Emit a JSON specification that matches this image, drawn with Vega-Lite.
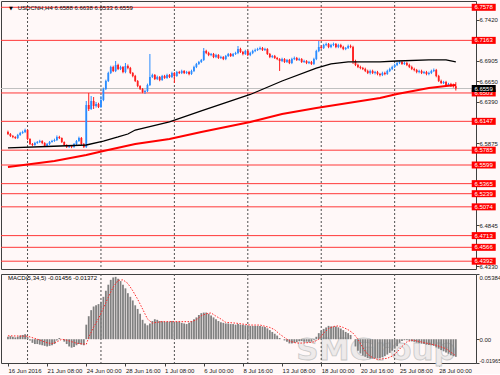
{
"$schema":"https://vega.github.io/schema/vega-lite/v6.json",
"background":"#FFF8F8",
"padding":0,
"spacing":3,
"config":{"view":{"stroke":"#404040","strokeWidth":1,"fill":"#FFF8F8"},"font":"Liberation Sans"},
"datasets":{
"grid":[{"i":8},{"i":38},{"i":68},{"i":98},{"i":128},{"i":158}],
"lv":[{"v":6.7578},{"v":6.7163},{"v":6.6503},{"v":6.6147},{"v":6.5785},{"v":6.5599},{"v":6.5365},{"v":6.5239},{"v":6.5074},{"v":6.4713},{"v":6.4566},{"v":6.4392}],
"bid":[{"v":6.6559}],
"ma1":[{"i":0,"v":6.5813},{"i":16,"v":6.5831},{"i":32,"v":6.5850},{"i":39,"v":6.5900},{"i":45,"v":6.5951},{"i":49,"v":6.5988},{"i":52,"v":6.6038},{"i":66,"v":6.6139},{"i":79,"v":6.6277},{"i":99,"v":6.6484},{"i":112,"v":6.6653},{"i":126,"v":6.6816},{"i":132,"v":6.6867},{"i":139,"v":6.6892},{"i":152,"v":6.6892},{"i":159,"v":6.6904},{"i":172,"v":6.6917},{"i":179,"v":6.6917},{"i":183,"v":6.6892}],
"ma2":[{"i":0,"v":6.5574},{"i":19,"v":6.5650},{"i":32,"v":6.5725},{"i":39,"v":6.5775},{"i":52,"v":6.5863},{"i":66,"v":6.5925},{"i":79,"v":6.6013},{"i":99,"v":6.6139},{"i":112,"v":6.6239},{"i":126,"v":6.6314},{"i":139,"v":6.6377},{"i":152,"v":6.6440},{"i":159,"v":6.6490},{"i":172,"v":6.6566},{"i":179,"v":6.6591},{"i":183,"v":6.6603}],
"sig":[{"i":0,"v":0.0028},{"i":8,"v":0.0025},{"i":12,"v":0.0},{"i":16,"v":-0.003},{"i":18,"v":-0.0036},{"i":20,"v":-0.0022},{"i":22,"v":0.0},{"i":24,"v":-0.0008},{"i":28,"v":-0.0033},{"i":32,"v":-0.0042},{"i":33,"v":0.0015},{"i":35,"v":0.010},{"i":37,"v":0.017},{"i":39,"v":0.0256},{"i":41,"v":0.0347},{"i":43,"v":0.043},{"i":45,"v":0.0486},{"i":47,"v":0.049},{"i":49,"v":0.046},{"i":51,"v":0.040},{"i":53,"v":0.033},{"i":55,"v":0.025},{"i":57,"v":0.0167},{"i":59,"v":0.0133},{"i":61,"v":0.014},{"i":63,"v":0.0145},{"i":75,"v":0.0145},{"i":77,"v":0.016},{"i":79,"v":0.0194},{"i":81,"v":0.021},{"i":83,"v":0.0217},{"i":85,"v":0.019},{"i":87,"v":0.0167},{"i":89,"v":0.0139},{"i":93,"v":0.0133},{"i":99,"v":0.0117},{"i":103,"v":0.0117},{"i":107,"v":0.0097},{"i":109,"v":0.0078},{"i":111,"v":0.0042},{"i":113,"v":0.0014},{"i":115,"v":-0.0014},{"i":117,"v":-0.0028},{"i":119,"v":-0.0033},{"i":123,"v":-0.0028},{"i":125,"v":-0.0022},{"i":127,"v":0.0},{"i":129,"v":0.005},{"i":131,"v":0.0089},{"i":133,"v":0.0105},{"i":135,"v":0.011},{"i":137,"v":0.0097},{"i":139,"v":0.0078},{"i":141,"v":0.005},{"i":143,"v":0.0},{"i":145,"v":-0.007},{"i":147,"v":-0.0125},{"i":149,"v":-0.0153},{"i":151,"v":-0.0167},{"i":155,"v":-0.0158},{"i":157,"v":-0.0139},{"i":159,"v":-0.0106},{"i":161,"v":-0.006},{"i":163,"v":-0.0022},{"i":165,"v":-0.0008},{"i":167,"v":-0.0014},{"i":171,"v":-0.0033},{"i":175,"v":-0.005},{"i":179,"v":-0.0078},{"i":183,"v":-0.0137}],
"bars":[
{"i":0,"o":6.6013,"h":6.6030,"l":6.5975,"c":6.5988,"m":0.002},
{"i":1,"o":6.5988,"h":6.6000,"l":6.5950,"c":6.5963,"m":0.0025},
{"i":2,"o":6.5963,"h":6.5975,"l":6.5935,"c":6.5951,"m":0.002},
{"i":3,"o":6.5951,"h":6.5960,"l":6.5925,"c":6.5938,"m":0.0015},
{"i":4,"o":6.5938,"h":6.5990,"l":6.5925,"c":6.5976,"m":0.002},
{"i":5,"o":6.5976,"h":6.6015,"l":6.5965,"c":6.6001,"m":0.003},
{"i":6,"o":6.6001,"h":6.6030,"l":6.5990,"c":6.6013,"m":0.0035},
{"i":7,"o":6.6013,"h":6.6055,"l":6.6000,"c":6.6038,"m":0.004},
{"i":8,"o":6.6038,"h":6.6045,"l":6.5910,"c":6.5925,"m":0.002},
{"i":9,"o":6.5925,"h":6.5935,"l":6.5850,"c":6.5863,"m":-0.001},
{"i":10,"o":6.5863,"h":6.5875,"l":6.5835,"c":6.5850,"m":-0.003},
{"i":11,"o":6.5850,"h":6.5890,"l":6.5840,"c":6.5875,"m":-0.004},
{"i":12,"o":6.5875,"h":6.5900,"l":6.5865,"c":6.5888,"m":-0.004},
{"i":13,"o":6.5888,"h":6.5915,"l":6.5875,"c":6.5900,"m":-0.0045},
{"i":14,"o":6.5900,"h":6.5910,"l":6.5860,"c":6.5875,"m":-0.005},
{"i":15,"o":6.5875,"h":6.5885,"l":6.5825,"c":6.5838,"m":-0.0055},
{"i":16,"o":6.5838,"h":6.5875,"l":6.5825,"c":6.5863,"m":-0.006},
{"i":17,"o":6.5863,"h":6.5900,"l":6.5850,"c":6.5888,"m":-0.0055},
{"i":18,"o":6.5888,"h":6.5915,"l":6.5880,"c":6.5900,"m":-0.005},
{"i":19,"o":6.5900,"h":6.5930,"l":6.5890,"c":6.5913,"m":-0.004},
{"i":20,"o":6.5913,"h":6.5970,"l":6.5900,"c":6.5951,"m":-0.001},
{"i":21,"o":6.5951,"h":6.5965,"l":6.5925,"c":6.5938,"m":0.001},
{"i":22,"o":6.5938,"h":6.5945,"l":6.5875,"c":6.5888,"m":0.0},
{"i":23,"o":6.5888,"h":6.5895,"l":6.5838,"c":6.5850,"m":-0.002},
{"i":24,"o":6.5850,"h":6.5860,"l":6.5812,"c":6.5825,"m":-0.004},
{"i":25,"o":6.5825,"h":6.5850,"l":6.5812,"c":6.5838,"m":-0.006},
{"i":26,"o":6.5838,"h":6.5850,"l":6.5810,"c":6.5825,"m":-0.007},
{"i":27,"o":6.5825,"h":6.5875,"l":6.5815,"c":6.5863,"m":-0.0065},
{"i":28,"o":6.5863,"h":6.5912,"l":6.5850,"c":6.5900,"m":-0.005},
{"i":29,"o":6.5900,"h":6.5955,"l":6.5890,"c":6.5938,"m":-0.004},
{"i":30,"o":6.5938,"h":6.5950,"l":6.5850,"c":6.5863,"m":-0.0045},
{"i":31,"o":6.5863,"h":6.5875,"l":6.5812,"c":6.5825,"m":-0.005},
{"i":32,"o":6.5825,"h":6.6402,"l":6.5813,"c":6.6352,"m":0.012},
{"i":33,"o":6.6352,"h":6.6503,"l":6.6277,"c":6.6302,"m":0.019},
{"i":34,"o":6.6302,"h":6.6465,"l":6.6290,"c":6.6402,"m":0.024},
{"i":35,"o":6.6402,"h":6.6452,"l":6.6302,"c":6.6340,"m":0.027},
{"i":36,"o":6.6340,"h":6.6390,"l":6.6320,"c":6.6365,"m":0.028},
{"i":37,"o":6.6365,"h":6.6380,"l":6.6314,"c":6.6327,"m":0.029},
{"i":38,"o":6.6327,"h":6.6465,"l":6.6314,"c":6.6415,"m":0.031},
{"i":39,"o":6.6415,"h":6.6570,"l":6.6400,"c":6.6553,"m":0.035},
{"i":40,"o":6.6553,"h":6.6670,"l":6.6540,"c":6.6653,"m":0.040},
{"i":41,"o":6.6653,"h":6.6770,"l":6.6640,"c":6.6754,"m":0.045},
{"i":42,"o":6.6754,"h":6.6845,"l":6.6740,"c":6.6829,"m":0.049},
{"i":43,"o":6.6829,"h":6.6845,"l":6.6765,"c":6.6779,"m":0.051},
{"i":44,"o":6.6779,"h":6.6904,"l":6.6765,"c":6.6854,"m":0.0515},
{"i":45,"o":6.6854,"h":6.6870,"l":6.6790,"c":6.6804,"m":0.050},
{"i":46,"o":6.6804,"h":6.6845,"l":6.6790,"c":6.6829,"m":0.048},
{"i":47,"o":6.6829,"h":6.6840,"l":6.6750,"c":6.6766,"m":0.045},
{"i":48,"o":6.6766,"h":6.6879,"l":6.6750,"c":6.6841,"m":0.042},
{"i":49,"o":6.6841,"h":6.6860,"l":6.6800,"c":6.6816,"m":0.038},
{"i":50,"o":6.6816,"h":6.6830,"l":6.6740,"c":6.6754,"m":0.035},
{"i":51,"o":6.6754,"h":6.6765,"l":6.6700,"c":6.6716,"m":0.032},
{"i":52,"o":6.6716,"h":6.6730,"l":6.6640,"c":6.6653,"m":0.028},
{"i":53,"o":6.6653,"h":6.6665,"l":6.6575,"c":6.6591,"m":0.025},
{"i":54,"o":6.6591,"h":6.6600,"l":6.6540,"c":6.6553,"m":0.021},
{"i":55,"o":6.6553,"h":6.6565,"l":6.6500,"c":6.6515,"m":0.016},
{"i":56,"o":6.6515,"h":6.6545,"l":6.6490,"c":6.6528,"m":0.013},
{"i":57,"o":6.6528,"h":6.6620,"l":6.6515,"c":6.6603,"m":0.0115},
{"i":58,"o":6.6603,"h":6.6992,"l":6.6590,"c":6.6703,"m":0.013},
{"i":59,"o":6.6703,"h":6.6745,"l":6.6690,"c":6.6729,"m":0.015},
{"i":60,"o":6.6729,"h":6.6740,"l":6.6665,"c":6.6678,"m":0.0165},
{"i":61,"o":6.6678,"h":6.6720,"l":6.6665,"c":6.6703,"m":0.016},
{"i":62,"o":6.6703,"h":6.6715,"l":6.6650,"c":6.6666,"m":0.015},
{"i":63,"o":6.6666,"h":6.6730,"l":6.6655,"c":6.6716,"m":0.0148},
{"i":64,"o":6.6716,"h":6.6730,"l":6.6680,"c":6.6691,"m":0.0145},
{"i":65,"o":6.6691,"h":6.6745,"l":6.6680,"c":6.6729,"m":0.0145},
{"i":66,"o":6.6729,"h":6.6740,"l":6.6690,"c":6.6703,"m":0.0145},
{"i":67,"o":6.6703,"h":6.6770,"l":6.6690,"c":6.6754,"m":0.015},
{"i":68,"o":6.6754,"h":6.6765,"l":6.6628,"c":6.6716,"m":0.0145},
{"i":69,"o":6.6716,"h":6.6780,"l":6.6705,"c":6.6766,"m":0.0145},
{"i":70,"o":6.6766,"h":6.6780,"l":6.6740,"c":6.6754,"m":0.0145},
{"i":71,"o":6.6754,"h":6.6795,"l":6.6740,"c":6.6779,"m":0.0135},
{"i":72,"o":6.6779,"h":6.6790,"l":6.6740,"c":6.6754,"m":0.013},
{"i":73,"o":6.6754,"h":6.6780,"l":6.6740,"c":6.6766,"m":0.0125},
{"i":74,"o":6.6766,"h":6.6780,"l":6.6725,"c":6.6741,"m":0.0135},
{"i":75,"o":6.6741,"h":6.6795,"l":6.6730,"c":6.6779,"m":0.015},
{"i":76,"o":6.6779,"h":6.6845,"l":6.6765,"c":6.6829,"m":0.0165},
{"i":77,"o":6.6829,"h":6.6880,"l":6.6815,"c":6.6867,"m":0.018},
{"i":78,"o":6.6867,"h":6.6905,"l":6.6855,"c":6.6892,"m":0.020},
{"i":79,"o":6.6892,"h":6.6930,"l":6.6880,"c":6.6917,"m":0.0215},
{"i":80,"o":6.6917,"h":6.7067,"l":6.6905,"c":6.7030,"m":0.022},
{"i":81,"o":6.7030,"h":6.7045,"l":6.6990,"c":6.7005,"m":0.022},
{"i":82,"o":6.7005,"h":6.7020,"l":6.6965,"c":6.6979,"m":0.021},
{"i":83,"o":6.6979,"h":6.7005,"l":6.6965,"c":6.6992,"m":0.0195},
{"i":84,"o":6.6992,"h":6.7005,"l":6.6940,"c":6.6954,"m":0.018},
{"i":85,"o":6.6954,"h":6.6995,"l":6.6940,"c":6.6979,"m":0.0165},
{"i":86,"o":6.6979,"h":6.6990,"l":6.6930,"c":6.6942,"m":0.015},
{"i":87,"o":6.6942,"h":6.6970,"l":6.6930,"c":6.6954,"m":0.014},
{"i":88,"o":6.6954,"h":6.6965,"l":6.6915,"c":6.6929,"m":0.0135},
{"i":89,"o":6.6929,"h":6.6980,"l":6.6915,"c":6.6967,"m":0.013},
{"i":90,"o":6.6967,"h":6.7005,"l":6.6955,"c":6.6992,"m":0.013},
{"i":91,"o":6.6992,"h":6.7005,"l":6.6955,"c":6.6967,"m":0.0125},
{"i":92,"o":6.6967,"h":6.7005,"l":6.6955,"c":6.6992,"m":0.0125},
{"i":93,"o":6.6992,"h":6.7020,"l":6.6980,"c":6.7005,"m":0.012},
{"i":94,"o":6.7005,"h":6.7092,"l":6.6990,"c":6.7055,"m":0.0125},
{"i":95,"o":6.7055,"h":6.7070,"l":6.7005,"c":6.7017,"m":0.012},
{"i":96,"o":6.7017,"h":6.7030,"l":6.6975,"c":6.6992,"m":0.012},
{"i":97,"o":6.6992,"h":6.7045,"l":6.6980,"c":6.7030,"m":0.0115},
{"i":98,"o":6.7030,"h":6.7045,"l":6.6965,"c":6.6979,"m":0.0115},
{"i":99,"o":6.6979,"h":6.7020,"l":6.6965,"c":6.7005,"m":0.011},
{"i":100,"o":6.7005,"h":6.7045,"l":6.6990,"c":6.7030,"m":0.011},
{"i":101,"o":6.7030,"h":6.7060,"l":6.7015,"c":6.7042,"m":0.011},
{"i":102,"o":6.7042,"h":6.7070,"l":6.7030,"c":6.7055,"m":0.011},
{"i":103,"o":6.7055,"h":6.7085,"l":6.7040,"c":6.7067,"m":0.0108},
{"i":104,"o":6.7067,"h":6.7080,"l":6.7030,"c":6.7042,"m":0.0105},
{"i":105,"o":6.7042,"h":6.7070,"l":6.7030,"c":6.7055,"m":0.010},
{"i":106,"o":6.7055,"h":6.7065,"l":6.6980,"c":6.6992,"m":0.009},
{"i":107,"o":6.6992,"h":6.7005,"l":6.6940,"c":6.6954,"m":0.0075},
{"i":108,"o":6.6954,"h":6.6980,"l":6.6940,"c":6.6967,"m":0.006},
{"i":109,"o":6.6967,"h":6.6980,"l":6.6930,"c":6.6942,"m":0.0045},
{"i":110,"o":6.6942,"h":6.6955,"l":6.6915,"c":6.6929,"m":0.003},
{"i":111,"o":6.6929,"h":6.6940,"l":6.6779,"c":6.6904,"m":0.001},
{"i":112,"o":6.6904,"h":6.6945,"l":6.6890,"c":6.6929,"m":0.0},
{"i":113,"o":6.6929,"h":6.6940,"l":6.6880,"c":6.6892,"m":-0.001},
{"i":114,"o":6.6892,"h":6.6930,"l":6.6880,"c":6.6917,"m":-0.002},
{"i":115,"o":6.6917,"h":6.6930,"l":6.6865,"c":6.6879,"m":-0.0035},
{"i":116,"o":6.6879,"h":6.6945,"l":6.6865,"c":6.6929,"m":-0.0035},
{"i":117,"o":6.6929,"h":6.6960,"l":6.6915,"c":6.6942,"m":-0.003},
{"i":118,"o":6.6942,"h":6.6955,"l":6.6905,"c":6.6917,"m":-0.0025},
{"i":119,"o":6.6917,"h":6.6945,"l":6.6905,"c":6.6929,"m":-0.0015},
{"i":120,"o":6.6929,"h":6.6940,"l":6.6880,"c":6.6892,"m":-0.0015},
{"i":121,"o":6.6892,"h":6.6920,"l":6.6880,"c":6.6904,"m":-0.002},
{"i":122,"o":6.6904,"h":6.6915,"l":6.6865,"c":6.6879,"m":-0.002},
{"i":123,"o":6.6879,"h":6.6905,"l":6.6865,"c":6.6892,"m":-0.0022},
{"i":124,"o":6.6892,"h":6.6905,"l":6.6855,"c":6.6867,"m":-0.002},
{"i":125,"o":6.6867,"h":6.6945,"l":6.6855,"c":6.6929,"m":-0.0005},
{"i":126,"o":6.6929,"h":6.7045,"l":6.6915,"c":6.7030,"m":0.002},
{"i":127,"o":6.7030,"h":6.7155,"l":6.7015,"c":6.7080,"m":0.005},
{"i":128,"o":6.7080,"h":6.7100,"l":6.7055,"c":6.7067,"m":0.007},
{"i":129,"o":6.7067,"h":6.7120,"l":6.7055,"c":6.7105,"m":0.0085},
{"i":130,"o":6.7105,"h":6.7135,"l":6.7090,"c":6.7117,"m":0.0097},
{"i":131,"o":6.7117,"h":6.7130,"l":6.7065,"c":6.7080,"m":0.011},
{"i":132,"o":6.7080,"h":6.7120,"l":6.7065,"c":6.7105,"m":0.0105},
{"i":133,"o":6.7105,"h":6.7135,"l":6.7090,"c":6.7117,"m":0.0105},
{"i":134,"o":6.7117,"h":6.7130,"l":6.7065,"c":6.7080,"m":0.0105},
{"i":135,"o":6.7080,"h":6.7120,"l":6.7065,"c":6.7105,"m":0.0098},
{"i":136,"o":6.7105,"h":6.7120,"l":6.7065,"c":6.7080,"m":0.0088},
{"i":137,"o":6.7080,"h":6.7095,"l":6.7040,"c":6.7055,"m":0.0075},
{"i":138,"o":6.7055,"h":6.7080,"l":6.7040,"c":6.7067,"m":0.006},
{"i":139,"o":6.7067,"h":6.7110,"l":6.7055,"c":6.7092,"m":0.005},
{"i":140,"o":6.7092,"h":6.7110,"l":6.7065,"c":6.7080,"m":0.0035},
{"i":141,"o":6.7080,"h":6.7095,"l":6.6867,"c":6.6904,"m":0.0},
{"i":142,"o":6.6904,"h":6.6920,"l":6.6840,"c":6.6854,"m":-0.006},
{"i":143,"o":6.6854,"h":6.6870,"l":6.6815,"c":6.6829,"m":-0.0095},
{"i":144,"o":6.6829,"h":6.6845,"l":6.6800,"c":6.6816,"m":-0.0118},
{"i":145,"o":6.6816,"h":6.6830,"l":6.6790,"c":6.6804,"m":-0.0135},
{"i":146,"o":6.6804,"h":6.6820,"l":6.6765,"c":6.6779,"m":-0.0145},
{"i":147,"o":6.6779,"h":6.6795,"l":6.6740,"c":6.6754,"m":-0.0155},
{"i":148,"o":6.6754,"h":6.6795,"l":6.6735,"c":6.6779,"m":-0.016},
{"i":149,"o":6.6779,"h":6.6795,"l":6.6740,"c":6.6754,"m":-0.016},
{"i":150,"o":6.6754,"h":6.6780,"l":6.6735,"c":6.6766,"m":-0.016},
{"i":151,"o":6.6766,"h":6.6780,"l":6.6725,"c":6.6741,"m":-0.0158},
{"i":152,"o":6.6741,"h":6.6755,"l":6.6710,"c":6.6729,"m":-0.0155},
{"i":153,"o":6.6729,"h":6.6770,"l":6.6715,"c":6.6754,"m":-0.0148},
{"i":154,"o":6.6754,"h":6.6770,"l":6.6725,"c":6.6741,"m":-0.014},
{"i":155,"o":6.6741,"h":6.6795,"l":6.6730,"c":6.6779,"m":-0.0127},
{"i":156,"o":6.6779,"h":6.6820,"l":6.6765,"c":6.6804,"m":-0.0113},
{"i":157,"o":6.6804,"h":6.6845,"l":6.6790,"c":6.6829,"m":-0.0095},
{"i":158,"o":6.6829,"h":6.6870,"l":6.6815,"c":6.6854,"m":-0.0078},
{"i":159,"o":6.6854,"h":6.6895,"l":6.6840,"c":6.6879,"m":-0.0058},
{"i":160,"o":6.6879,"h":6.6905,"l":6.6865,"c":6.6892,"m":-0.003},
{"i":161,"o":6.6892,"h":6.6905,"l":6.6855,"c":6.6867,"m":-0.0015},
{"i":162,"o":6.6867,"h":6.6895,"l":6.6855,"c":6.6879,"m":-0.0008},
{"i":163,"o":6.6879,"h":6.6895,"l":6.6840,"c":6.6854,"m":-0.0008},
{"i":164,"o":6.6854,"h":6.6870,"l":6.6815,"c":6.6829,"m":-0.0012},
{"i":165,"o":6.6829,"h":6.6845,"l":6.6790,"c":6.6804,"m":-0.0018},
{"i":166,"o":6.6804,"h":6.6820,"l":6.6775,"c":6.6791,"m":-0.0022},
{"i":167,"o":6.6791,"h":6.6805,"l":6.6750,"c":6.6766,"m":-0.0028},
{"i":168,"o":6.6766,"h":6.6795,"l":6.6750,"c":6.6779,"m":-0.0033},
{"i":169,"o":6.6779,"h":6.6795,"l":6.6740,"c":6.6754,"m":-0.0037},
{"i":170,"o":6.6754,"h":6.6780,"l":6.6740,"c":6.6766,"m":-0.004},
{"i":171,"o":6.6766,"h":6.6780,"l":6.6725,"c":6.6741,"m":-0.0045},
{"i":172,"o":6.6741,"h":6.6770,"l":6.6725,"c":6.6754,"m":-0.0048},
{"i":173,"o":6.6754,"h":6.6795,"l":6.6740,"c":6.6779,"m":-0.005},
{"i":174,"o":6.6779,"h":6.6810,"l":6.6765,"c":6.6791,"m":-0.0055},
{"i":175,"o":6.6791,"h":6.6805,"l":6.6700,"c":6.6716,"m":-0.0068},
{"i":176,"o":6.6716,"h":6.6730,"l":6.6640,"c":6.6653,"m":-0.0078},
{"i":177,"o":6.6653,"h":6.6670,"l":6.6615,"c":6.6628,"m":-0.009},
{"i":178,"o":6.6628,"h":6.6655,"l":6.6615,"c":6.6641,"m":-0.010},
{"i":179,"o":6.6641,"h":6.6655,"l":6.6590,"c":6.6603,"m":-0.011},
{"i":180,"o":6.6603,"h":6.6630,"l":6.6590,"c":6.6616,"m":-0.012},
{"i":181,"o":6.6616,"h":6.6630,"l":6.6578,"c":6.6591,"m":-0.0133},
{"i":182,"o":6.6591,"h":6.6620,"l":6.6570,"c":6.6588,"m":-0.014},
{"i":183,"o":6.6588,"h":6.6638,"l":6.6533,"c":6.6559,"m":-0.01456}
]},
"vconcat":[
{"width":475,"height":268,
"layer":[
{"data":{"name":"grid"},"mark":{"type":"rule","color":"#505050","strokeDash":[2,2],"strokeWidth":1},
 "encoding":{"x":{"field":"i","type":"quantitative","scale":{"domain":[-0.8,189.2],"nice":false,"zero":false},"axis":null}}},
{"data":{"name":"lv"},"mark":{"type":"rule","color":"#FF3838","strokeWidth":1},
 "encoding":{"y":{"field":"v","type":"quantitative","scale":{"domain":[6.4294,6.7657],"nice":false,"zero":false},
   "axis":{"orient":"right","values":[6.742,6.6905,6.665,6.639,6.5875,6.4845,6.433],"format":".4f","title":null,"grid":false,"domain":false,"tickSize":3,"tickColor":"#404040","labelPadding":0,"labelFont":"Liberation Sans","labelFontSize":6,"labelColor":"#202020","labelBaseline":"middle","labelOverlap":false,"labelBound":false}}}},
{"data":{"name":"bid"},"mark":{"type":"rule","color":"#C0C0C0","strokeWidth":1},
 "encoding":{"y":{"field":"v","type":"quantitative","scale":{"domain":[6.4294,6.7657],"nice":false,"zero":false}}}},
{"data":{"name":"bars"},"mark":{"type":"rule","strokeWidth":1},
 "encoding":{"x":{"field":"i","type":"quantitative","scale":{"domain":[-0.8,189.2],"nice":false,"zero":false},"axis":null},
  "y":{"field":"l","type":"quantitative","scale":{"domain":[6.4294,6.7657],"nice":false,"zero":false}},
  "y2":{"field":"h"},
  "color":{"condition":{"test":"datum.c >= datum.o","value":"#2A8CFF"},"value":"#FF1E1E"}}},
{"data":{"name":"bars"},"mark":{"type":"bar","width":1.8},
 "encoding":{"x":{"field":"i","type":"quantitative","scale":{"domain":[-0.8,189.2],"nice":false,"zero":false},"axis":null},
  "y":{"field":"o","type":"quantitative","scale":{"domain":[6.4294,6.7657],"nice":false,"zero":false}},
  "y2":{"field":"c"},
  "color":{"condition":{"test":"datum.c >= datum.o","value":"#2A8CFF"},"value":"#FF1E1E"}}},
{"data":{"name":"ma1"},"mark":{"type":"line","color":"#000000","strokeWidth":1.3},
 "encoding":{"x":{"field":"i","type":"quantitative","scale":{"domain":[-0.8,189.2],"nice":false,"zero":false},"axis":null},
  "y":{"field":"v","type":"quantitative","scale":{"domain":[6.4294,6.7657],"nice":false,"zero":false}}}},
{"data":{"name":"ma2"},"mark":{"type":"line","color":"#FF0000","strokeWidth":2},
 "encoding":{"x":{"field":"i","type":"quantitative","scale":{"domain":[-0.8,189.2],"nice":false,"zero":false},"axis":null},
  "y":{"field":"v","type":"quantitative","scale":{"domain":[6.4294,6.7657],"nice":false,"zero":false}}}},
{"data":{"name":"lv"},"mark":{"type":"tick","orient":"horizontal","size":24,"thickness":7,"color":"#FF0000","opacity":1},
 "encoding":{"x":{"datum":194.4,"type":"quantitative","scale":{"domain":[-0.8,189.2],"nice":false,"zero":false},"axis":null},
  "y":{"field":"v","type":"quantitative","scale":{"domain":[6.4294,6.7657],"nice":false,"zero":false}}}},
{"data":{"name":"lv"},"mark":{"type":"text","align":"left","baseline":"middle","color":"#FFFFFF","fontSize":6,"font":"Liberation Sans"},
 "encoding":{"x":{"datum":190.6,"type":"quantitative","scale":{"domain":[-0.8,189.2],"nice":false,"zero":false},"axis":null},
  "y":{"field":"v","type":"quantitative","scale":{"domain":[6.4294,6.7657],"nice":false,"zero":false}},
  "text":{"field":"v","type":"quantitative","format":".4f"}}},
{"data":{"name":"bid"},"mark":{"type":"tick","orient":"horizontal","size":24,"thickness":7,"color":"#000000","opacity":1},
 "encoding":{"x":{"datum":194.4,"type":"quantitative","scale":{"domain":[-0.8,189.2],"nice":false,"zero":false},"axis":null},
  "y":{"field":"v","type":"quantitative","scale":{"domain":[6.4294,6.7657],"nice":false,"zero":false}}}},
{"data":{"name":"bid"},"mark":{"type":"text","align":"left","baseline":"middle","color":"#FFFFFF","fontSize":6,"font":"Liberation Sans"},
 "encoding":{"x":{"datum":190.6,"type":"quantitative","scale":{"domain":[-0.8,189.2],"nice":false,"zero":false},"axis":null},
  "y":{"field":"v","type":"quantitative","scale":{"domain":[6.4294,6.7657],"nice":false,"zero":false}},
  "text":{"field":"v","type":"quantitative","format":".4f"}}},
{"data":{"values":[{"t":"USDCNH,H4  6.6588 6.6638 6.6533 6.6559"}]},"mark":{"type":"text","align":"left","baseline":"middle","color":"#000000","fontSize":6,"font":"Liberation Sans"},
 "encoding":{"x":{"datum":4.0,"type":"quantitative","scale":{"domain":[-0.8,189.2],"nice":false,"zero":false},"axis":null},
  "y":{"datum":6.7575,"type":"quantitative","scale":{"domain":[6.4294,6.7657],"nice":false,"zero":false}},
  "text":{"field":"t"}}},
{"data":{"values":[{"t":"▼"}]},"mark":{"type":"text","align":"center","baseline":"middle","color":"#000000","fontSize":5,"font":"DejaVu Sans"},
 "encoding":{"x":{"datum":1.2,"type":"quantitative","scale":{"domain":[-0.8,189.2],"nice":false,"zero":false},"axis":null},
  "y":{"datum":6.7575,"type":"quantitative","scale":{"domain":[6.4294,6.7657],"nice":false,"zero":false}},
  "text":{"field":"t"}}}
]},
{"width":475,"height":89,
"layer":[
{"data":{"values":[{"t":"SMGroup"}]},"mark":{"type":"text","align":"center","baseline":"alphabetic","fontSize":31,"font":"DejaVu Sans","fontWeight":"bold","fill":"#EEEAEA","stroke":"#C8C8C8","strokeWidth":0.8},
 "encoding":{"x":{"datum":150.4,"type":"quantitative","scale":{"domain":[-0.8,189.2],"nice":false,"zero":false}},
  "y":{"datum":-0.0168,"type":"quantitative","scale":{"domain":[-0.01965,0.05384],"nice":false,"zero":false}},
  "text":{"field":"t"}}},
{"data":{"name":"grid"},"mark":{"type":"rule","color":"#505050","strokeDash":[2,2],"strokeWidth":1},
 "encoding":{"x":{"field":"i","type":"quantitative","scale":{"domain":[-0.8,189.2],"nice":false,"zero":false}}}},
{"data":{"name":"bars"},"mark":{"type":"bar","width":1.8,"color":"#808080"},
 "encoding":{"x":{"field":"i","type":"quantitative","scale":{"domain":[-0.8,189.2],"nice":false,"zero":false},
   "axis":{"orient":"bottom","values":[0,16,32,48,64,80,96,112,128,144,160,176],"labelExpr":"['16 Jun 2016','21 Jun 08:00','24 Jun 00:00','28 Jun 16:00','1 Jul 08:00','6 Jul 00:00','8 Jul 16:00','13 Jul 08:00','18 Jul 00:00','20 Jul 16:00','25 Jul 08:00','28 Jul 00:00'][round(datum.value/16)]","title":null,"grid":false,"domain":false,"tickSize":3,"tickColor":"#404040","labelAlign":"left","labelPadding":1,"labelFont":"Liberation Sans","labelFontSize":6,"labelColor":"#202020","labelOverlap":false,"labelBound":false,"labelFlush":false}},
  "y":{"field":"m","type":"quantitative","scale":{"domain":[-0.01965,0.05384],"nice":false,"zero":false},
   "axis":{"orient":"right","values":[0.05384,0,-0.01965],"labelExpr":"datum.value == 0 ? '0.00' : (datum.value < 0 ? '-' + format(abs(datum.value), '.5f') : format(datum.value, '.5f'))","title":null,"grid":false,"domain":false,"tickSize":3,"tickColor":"#404040","labelPadding":0,"labelFont":"Liberation Sans","labelFontSize":{"condition":{"test":"datum.value < 0","value":5.5},"value":6},"labelColor":"#202020","labelFlush":true,"labelOverlap":false,"labelBound":false}},
  "y2":{"datum":0}}},
{"data":{"name":"sig"},"mark":{"type":"line","color":"#FF2A2A","strokeWidth":1,"strokeDash":[1.5,1.5]},
 "encoding":{"x":{"field":"i","type":"quantitative","scale":{"domain":[-0.8,189.2],"nice":false,"zero":false}},
  "y":{"field":"v","type":"quantitative","scale":{"domain":[-0.01965,0.05384],"nice":false,"zero":false}}}},
{"data":{"values":[{"t":"MACD(5,34,5) -0.01456 -0.01372"}]},"mark":{"type":"text","align":"left","baseline":"middle","color":"#000000","fontSize":6,"font":"Liberation Sans"},
 "encoding":{"x":{"datum":0.0,"type":"quantitative","scale":{"domain":[-0.8,189.2],"nice":false,"zero":false}},
  "y":{"datum":0.0505,"type":"quantitative","scale":{"domain":[-0.01965,0.05384],"nice":false,"zero":false}},
  "text":{"field":"t"}}}
]}
]
}
